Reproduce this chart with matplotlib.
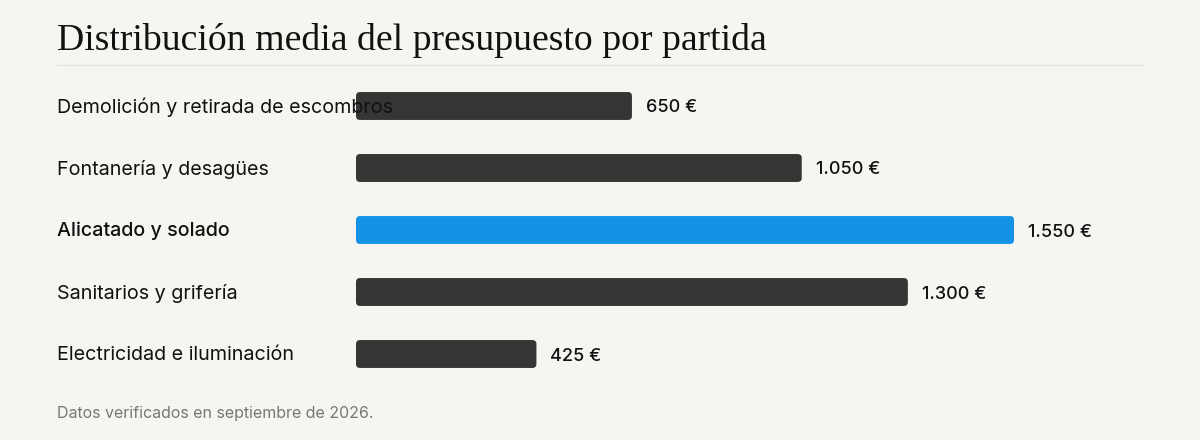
import matplotlib
matplotlib.use("Agg")
import matplotlib.pyplot as plt
from matplotlib.patches import FancyBboxPatch
from matplotlib.lines import Line2D
import matplotlib.transforms as mtransforms

# datos
partidas = [
    "Demolición y retirada de escombros",
    "Fontanería y desagües",
    "Alicatado y solado",
    "Sanitarios y grifería",
    "Electricidad e iluminación",
]
importes = [650, 1050, 1550, 1300, 425]
destacada = "Alicatado y solado"

titulo = "Distribución media del presupuesto por partida"
nota = "Datos verificados en septiembre de 2026."

fondo = "#f6f5f1"
oscuro = "#353533"
azul = "#1493e6"
sans = ["Inter", "Liberation Sans", "DejaVu Sans"]
serif = ["Liberation Serif", "DejaVu Serif"]

W, H = 1200, 440
fig = plt.figure(figsize=(12, 4.4), dpi=100, facecolor=fondo)

# eje: x empieza en 356px, 1550 llega a 1014px
px_por_unidad = (1014 - 356) / 1550
ax_left, ax_right = 356, 1143
ax_top, ax_bottom = 75, 385
ax = fig.add_axes([ax_left / W, 1 - ax_bottom / H,
                   (ax_right - ax_left) / W, (ax_bottom - ax_top) / H])
ax.set_facecolor("none")
ax.set_xlim(0, (ax_right - ax_left) / px_por_unidad)
ax.set_ylim(len(partidas) - 0.5, -0.5)
ax.axis("off")

alto = 0.45
radio_px = 4
ry = radio_px / ((ax_bottom - ax_top) / len(partidas))
rx = radio_px / px_por_unidad

etiquetas = mtransforms.blended_transform_factory(fig.transFigure, ax.transData)

for i, (nombre, valor) in enumerate(zip(partidas, importes)):
    color = azul if nombre == destacada else oscuro
    barra = FancyBboxPatch((0, i - alto / 2), valor, alto,
                           boxstyle=f"round,pad=0,rounding_size={rx}",
                           mutation_aspect=ry / rx,
                           facecolor=color, edgecolor="none", zorder=2)
    ax.add_patch(barra)
    peso = "medium" if nombre == destacada else "normal"
    ax.text(57 / W, i + 0.02, nombre, transform=etiquetas, ha="left", va="center",
            fontsize=14.2, family=sans, color="#111111", fontweight=peso,
            zorder=3, clip_on=False)
    texto = f"{valor:,}".replace(",", ".") + " €"
    ax.annotate(texto, (valor, i), xytext=(14, -2), textcoords="offset pixels",
                ha="left", va="center", fontsize=13, family=sans,
                fontweight="medium", color="#111111", annotation_clip=False)

fig.text(57 / W, 1 - 50 / H, titulo, ha="left", va="baseline",
         fontsize=27.2, family=serif, color="#111111")
fig.add_artist(Line2D([57 / W, 1143 / W], [1 - 65 / H, 1 - 65 / H],
                      transform=fig.transFigure, color="#e2e1dc", lw=1))
fig.text(57 / W, 1 - 413 / H, nota, ha="left", va="center",
         fontsize=11.5, family=sans, color="#777777")

fig.savefig("out.png", dpi=100, facecolor=fondo)
